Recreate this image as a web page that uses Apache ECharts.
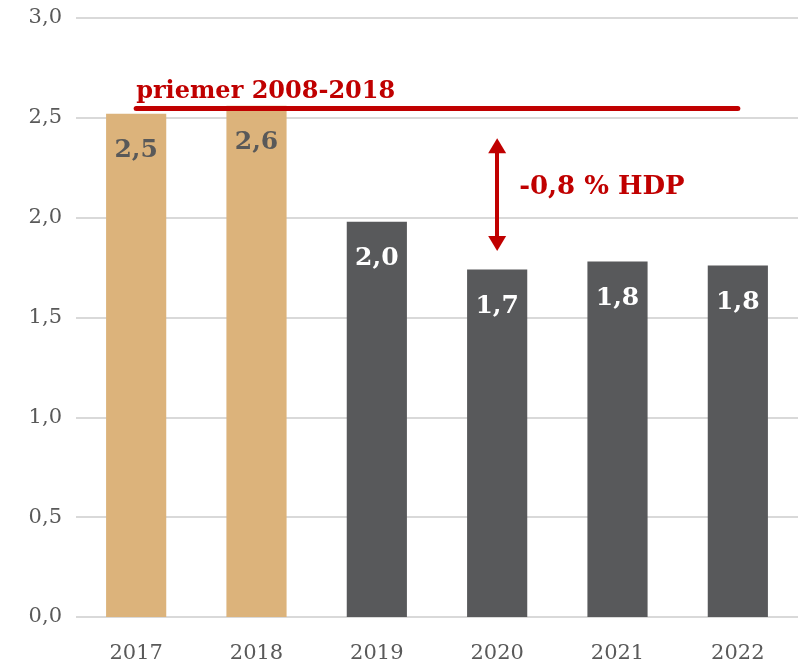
<!DOCTYPE html>
<html>
<head>
<meta charset="utf-8">
<script src="https://cdn.jsdelivr.net/npm/echarts@6/dist/echarts.min.js"></script>
<style>
  html, body { margin: 0; padding: 0; background: #fff; }
  #chart { width: 798px; height: 668px; }
</style>
</head>
<body>
<div id="chart"></div>
<script>
// Dáta grafu
const years = ['2017', '2018', '2019', '2020', '2021', '2022'];
const values = [2.52, 2.56, 1.98, 1.74, 1.78, 1.76];
const isPast = [true, true, false, false, false, false];
const averageValue = 2.55;
const averageLabel = 'priemer 2008-2018';
const gapFrom = 2.36;
const gapTo = 1.87;
const gapLabel = '-0,8 % HDP';

const serif = '"DejaVu Serif", "Liberation Serif", serif';
const tan = '#DCB37B';
const dark = '#58595B';
const red = '#C00000';

var chart = echarts.init(document.getElementById('chart'));

function comma(v) {
    return v.toFixed(1).replace('.', ',');
}

let barData = values.map((v, i) => {
    return {
        value: v,
        itemStyle: { color: isPast[i] ? tan : dark },
        label: { color: isPast[i] ? '#595959' : '#ffffff' }
    };
});

var option = {
    animation: false,
    grid: { left: 76, right: 0, top: 18, bottom: 51 },
    xAxis: {
        type: 'category',
        data: years,
        axisLine: { show: false },
        axisTick: { show: false },
        axisLabel: { color: '#595959', fontFamily: serif, fontSize: 21, margin: 26 }
    },
    yAxis: {
        type: 'value',
        min: 0,
        max: 3,
        interval: 0.5,
        axisLabel: {
            color: '#595959', fontFamily: serif, fontSize: 21, margin: 14,
            formatter: v => comma(v)
        },
        splitLine: { lineStyle: { color: '#D9D9D9', width: 2 } }
    },
    series: [
        {
            type: 'bar',
            data: barData,
            barWidth: '50%',
            label: {
                show: true,
                position: 'insideTop',
                distance: 24,
                fontFamily: serif,
                fontWeight: 'bold',
                fontSize: 25,
                formatter: p => comma(p.value)
            },
            markLine: {
                silent: true,
                symbol: ['none', 'none'],
                lineStyle: { color: red, width: 5, type: 'solid', cap: 'round' },
                label: {
                    show: true,
                    position: 'insideStartTop',
                    formatter: averageLabel,
                    color: red,
                    fontFamily: serif,
                    fontWeight: 'bold',
                    fontSize: 24,
                    distance: [0, 4]
                },
                data: [[
                    { coord: [0, averageValue] },
                    { coord: [5, averageValue] }
                ]]
            }
        },
        {
            // šípka rozdielu
            type: 'line',
            data: [],
            markLine: {
                silent: true,
                symbol: ['triangle', 'triangle'],
                symbolSize: [18, 15],
                lineStyle: { color: red, width: 4, type: 'solid' },
                label: { show: false },
                data: [[
                    { coord: [3, gapFrom] },
                    { coord: [3, gapTo] }
                ]]
            },
            markPoint: {
                silent: true,
                symbol: 'circle',
                symbolSize: 0,
                label: {
                    show: true,
                    position: 'right',
                    distance: 22,
                    formatter: gapLabel,
                    color: red,
                    fontFamily: serif,
                    fontWeight: 'bold',
                    fontSize: 26
                },
                data: [{ coord: [3, (gapFrom + gapTo) / 2 + 0.035] }]
            }
        }
    ]
};

chart.setOption(option);
</script>
</body>
</html>
